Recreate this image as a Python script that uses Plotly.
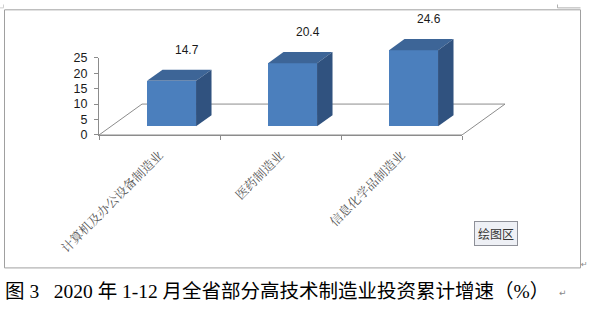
import plotly.graph_objects as go

# ---- data ----
categories = ["计算机及办公设备制造业", "医药制造业", "信息化学品制造业"]
values = [14.7, 20.4, 24.6]
value_labels = ["14.7", "20.4", "24.6"]
y_ticks = [0, 5, 10, 15, 20, 25]
caption = "图 3 &nbsp; 2020 年 1-12 月全省部分高技术制造业投资累计增速（%）"

# ---- geometry / style (pixels) ----
W, H = 589, 310
L, R, T, B = 99, 84, 15, 175          # plot area 99..505 x 15..135
PW, PH = W - L - R, H - T - B          # 406 x 120
CAT_PX = 121.0                          # px per category on front edge
VAL_PX = 3.2                            # px per value unit
FLOOR_DX = 43 / CAT_PX                  # floor depth in x units
FLOOR_DY = 32 / VAL_PX                  # floor depth in y units
F0 = 0.28                               # bar front depth fraction
BD = 0.36                               # bar depth fraction
BW = 49 / CAT_PX                        # bar width in x units

FRONT = "#4b7fbd"
TOP = "#3d6597"
SIDE = "#30527f"
AXC = "#8c8c8c"


def px_x(p):
    return (p - L) / PW


def px_y(p):
    return (H - B - p) / PH


fig = go.Figure()

n = len(categories)
centers = [i + 0.5 + F0 * FLOOR_DX for i in range(n)]
base = F0 * FLOOR_DY
ddx, ddy = BD * FLOOR_DX, BD * FLOOR_DY

# invisible trace so the category/value axes get drawn
fig.add_trace(go.Scatter(
    x=[i + 0.5 for i in range(n)], y=[0] * n, mode="markers",
    marker=dict(opacity=0, size=1), xaxis="x", yaxis="y",
    hoverinfo="skip", showlegend=False,
))

# front faces
fig.add_trace(go.Bar(
    x=centers, y=values, base=base, width=BW,
    marker=dict(color=FRONT, line=dict(width=0)),
    xaxis="x2", yaxis="y2", hoverinfo="skip", showlegend=False,
))

for i, v in enumerate(values):
    x0 = centers[i] - BW / 2
    x1 = centers[i] + BW / 2
    yb, yt = base, base + v
    # top face
    fig.add_trace(go.Scatter(
        x=[x0, x1, x1 + ddx, x0 + ddx, x0],
        y=[yt, yt, yt + ddy, yt + ddy, yt],
        fill="toself", fillcolor=TOP, mode="lines", line=dict(width=0, color=TOP),
        xaxis="x2", yaxis="y2", hoverinfo="skip", showlegend=False,
    ))
    # side face
    fig.add_trace(go.Scatter(
        x=[x1, x1 + ddx, x1 + ddx, x1, x1],
        y=[yb, yb + ddy, yt + ddy, yt, yb],
        fill="toself", fillcolor=SIDE, mode="lines", line=dict(width=0, color=SIDE),
        xaxis="x2", yaxis="y2", hoverinfo="skip", showlegend=False,
    ))
    fig.add_annotation(
        x=centers[i] + 1.0 * ddx, y=yt + ddy, xref="x2", yref="y2",
        text=value_labels[i], showarrow=False, yshift=20,
        font=dict(family="Liberation Sans, Arial", size=12, color="#1a1a1a"),
    )

# floor (drawn below traces)
floor_path = "M {} {} L {} {} L {} {} L {} {} Z".format(
    0, 0, n, 0, n + FLOOR_DX, FLOOR_DY, FLOOR_DX, FLOOR_DY)
fig.add_shape(type="path", path=floor_path, xref="x2", yref="y2",
              line=dict(color=AXC, width=1), layer="below")

# chart frame
fig.add_shape(type="rect", xref="paper", yref="paper",
              x0=px_x(4.5), x1=px_x(580.5), y0=px_y(272.5), y1=px_y(5.5),
              line=dict(color="#a0a0a0", width=1), layer="below")
# small anchor marks
fig.add_shape(type="path", xref="paper", yref="paper",
              path="M {} {} L {} {} L {} {}".format(px_x(557.5), px_y(0), px_x(557.5), px_y(3.5), px_x(580.5), px_y(3.5)),
              line=dict(color="#b0b0b0", width=1))
fig.add_shape(type="path", xref="paper", yref="paper",
              path="M {} {} L {} {} L {} {}".format(px_x(0), px_y(3.5), px_x(3.5), px_y(3.5), px_x(3.5), px_y(0)),
              line=dict(color="#d0d0d0", width=1))

# caption
fig.add_annotation(
    x=px_x(3), y=px_y(297), xref="paper", yref="paper", xanchor="left", yanchor="middle",
    text=caption, showarrow=False,
    font=dict(family="Liberation Serif, Noto Sans CJK SC", size=19.5, color="#000000"),
)
fig.add_annotation(
    x=px_x(557), y=px_y(298), xref="paper", yref="paper", xanchor="left", yanchor="middle",
    text="↵", showarrow=False, font=dict(family="DejaVu Sans", size=9, color="#888888"),
)
fig.add_annotation(
    x=px_x(584), y=px_y(269), xref="paper", yref="paper", xanchor="center", yanchor="middle",
    text="↵", showarrow=False, font=dict(family="DejaVu Sans", size=8, color="#888888"),
)
# plot-area tooltip
fig.add_annotation(
    x=px_x(496), y=px_y(237), xref="paper", yref="paper", xanchor="center", yanchor="middle",
    text="绘图区", showarrow=False, bgcolor="#eef0f5", bordercolor="#8e9098", borderwidth=1, borderpad=3,
    font=dict(family="Noto Sans CJK SC", size=12, color="#333333"),
)

fig.update_layout(
    width=W, height=H, autosize=False,
    margin=dict(l=L, r=R, t=T, b=B, pad=0),
    paper_bgcolor="white", plot_bgcolor="rgba(0,0,0,0)",
    showlegend=False, bargap=0,
    xaxis=dict(
        domain=[0, n * CAT_PX / PW], range=[0, n], anchor="y",
        tickmode="array", tickvals=[i + 0.5 for i in range(n)], ticktext=categories,
        tickangle=-45, ticks="", showline=True, linecolor=AXC, linewidth=1,
        showgrid=False, zeroline=False, fixedrange=True,
        tickfont=dict(family="Noto Serif CJK SC, Noto Sans CJK SC", size=12.5, color="#555555"),
        ticklabelstandoff=7,
        minor=dict(tickmode="array", tickvals=list(range(n + 1)), ticks="outside",
                   ticklen=4, tickcolor=AXC, showgrid=False),
    ),
    yaxis=dict(
        domain=[0, 25 * VAL_PX / PH], range=[0, 25], anchor="x",
        tickmode="array", tickvals=y_ticks, ticks="outside", ticklen=4, tickcolor=AXC,
        showline=True, linecolor=AXC, linewidth=1, showgrid=False, zeroline=False,
        tickfont=dict(family="Liberation Sans, Arial", size=12.5, color="#1a1a1a"),
        ticklabelstandoff=4,
    ),
    xaxis2=dict(domain=[0, 1], range=[0, PW / CAT_PX], anchor="y2", visible=False, fixedrange=True),
    yaxis2=dict(domain=[0, 1], range=[0, PH / VAL_PX], anchor="x2", visible=False, fixedrange=True),
)

fig.write_html("out.html")
